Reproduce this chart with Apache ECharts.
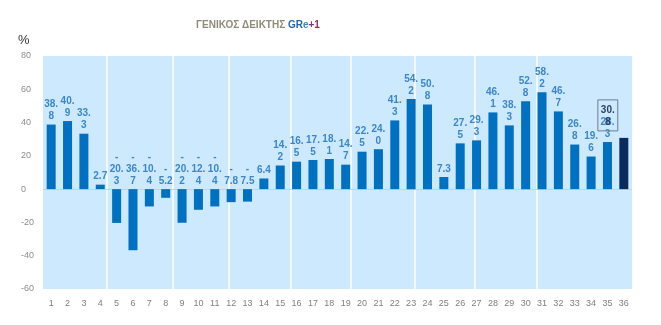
<!DOCTYPE html>
<html>
<head>
<meta charset="utf-8">
<script src="https://cdn.jsdelivr.net/npm/echarts@6/dist/echarts.min.js"></script>
<style>
  html, body { margin: 0; padding: 0; background: #ffffff; }
  #chart { width: 661px; height: 325px; }
</style>
</head>
<body>
<div id="chart"></div>
<script>
// Period numbers along the bottom axis
const periods = ['1','2','3','4','5','6','7','8','9','10','11','12','13','14','15','16','17','18',
                 '19','20','21','22','23','24','25','26','27','28','29','30','31','32','33','34','35','36'];

// Index change, % per period
const indexValues = [38.8, 40.9, 33.3, 2.7, -20.3, -36.7, -10.4, -5.2, -20.2, -12.4, -10.4, -7.8,
                     -7.5, 6.4, 14.2, 16.5, 17.5, 18.1, 14.7, 22.5, 24.0, 41.3, 54.2, 50.8,
                     7.3, 27.5, 29.3, 46.1, 38.3, 52.8, 58.2, 46.7, 26.8, 19.6, 28.3, 30.8];

// Value axis ticks
const yTicks = { min: -60, max: 80, step: 20 };

// Edges of the background bands, in category units from the left of the plot
const bandEdges = [3.89, 7.93, 11.33, 15.14, 18.79, 22.72, 26.36, 30.18];

const lastIdx = indexValues.length - 1;

// Split a value the way the narrow label box wraps it: sign, then at most 3 chars per line
function wrapValue(v) {
  const s = Math.abs(v).toFixed(1);
  const lines = s.length > 3 ? [s.slice(0, 3), s.slice(3)] : [s];
  if (v < 0) lines.unshift('-');
  return lines.join('\n');
}

const barData = indexValues.map(function (v, i) {
  const item = { value: v };
  if (i === lastIdx) {
    item.itemStyle = { color: '#0B2A5E' };
    item.label = {
      color: '#2B3F66',
      borderColor: '#6C7A95',
      borderWidth: 1,
      padding: [4, 3, 3, 3],
      offset: [-16, -5]
    };
  }
  return item;
});

const titleFont = 'Liberation Sans, sans-serif';

const chart = echarts.init(document.getElementById('chart'));

chart.setOption({
  animation: false,
  backgroundColor: '#ffffff',
  title: {
    left: 191,
    top: 15,
    text: '{a|ΓΕΝΙΚΟΣ ΔΕΙΚΤΗΣ }{b|GR}{c|e}{d|+1}',
    textStyle: {
      rich: {
        a: { color: '#8E8C78', fontSize: 10, fontWeight: 'bold', fontFamily: titleFont },
        b: { color: '#2468A8', fontSize: 10, fontWeight: 'bold', fontFamily: titleFont },
        c: { color: '#3D86C6', fontSize: 10, fontWeight: 'bold', fontFamily: titleFont },
        d: { color: '#8E2F6B', fontSize: 10, fontWeight: 'bold', fontFamily: titleFont }
      }
    }
  },
  graphic: [{
    type: 'text',
    left: 18,
    top: 34,
    style: { text: '%', fontSize: 13, fill: '#333333', fontFamily: 'Liberation Sans' }
  }],
  grid: {
    left: 43, right: 29, top: 56, bottom: 36,
    show: true,
    backgroundColor: '#CDE9FD',
    borderWidth: 0
  },
  xAxis: [{
    type: 'category',
    data: periods,
    position: 'bottom',
    axisLine: { show: false, onZero: false },
    axisTick: { show: false },
    axisLabel: { color: '#7F7F7F', fontSize: 9, margin: 10, interval: 0, fontFamily: 'Liberation Sans' },
    splitLine: { show: false }
  }, {
    type: 'value',
    min: 0,
    max: periods.length,
    show: false
  }],
  yAxis: {
    type: 'value',
    min: yTicks.min,
    max: yTicks.max,
    interval: yTicks.step,
    axisLine: { show: false },
    axisTick: { show: false },
    splitLine: { show: false },
    axisLabel: { color: '#8C8C8C', fontSize: 9, align: 'left', margin: 22, fontFamily: 'Liberation Sans' }
  },
  series: [{
    // band separators and the zero line, kept behind the bars
    type: 'line',
    xAxisIndex: 1,
    data: [],
    silent: true,
    z: 1,
    markLine: {
      silent: true,
      z: 1,
      symbol: 'none',
      label: { show: false },
      data: bandEdges.map(function (e) {
        return { xAxis: e, lineStyle: { color: '#F2F9FF', width: 2, type: 'solid' } };
      }).concat([{ yAxis: 0, lineStyle: { color: '#C9D3DC', width: 1, type: 'solid' } }])
    }
  }, {
    type: 'bar',
    data: barData,
    barWidth: 9,
    z: 3,
    itemStyle: { color: '#0070C0' },
    label: {
      show: true,
      position: 'top',
      distance: 2,
      color: '#3C87C9',
      fontSize: 10,
      fontWeight: 'bold',
      lineHeight: 12,
      fontFamily: 'Liberation Sans',
      formatter: function (p) { return wrapValue(p.value); }
    }
  }]
});
</script>
</body>
</html>
